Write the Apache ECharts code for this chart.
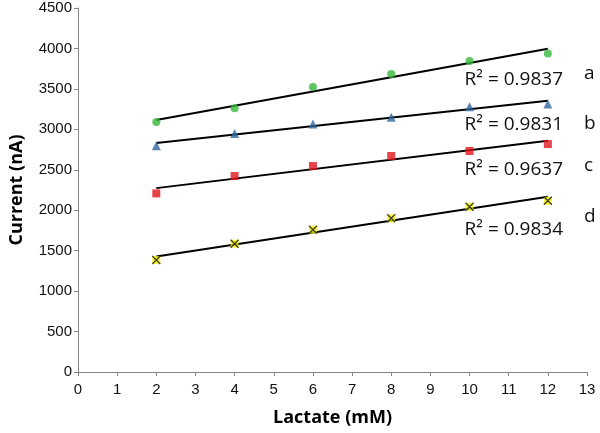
<!DOCTYPE html>
<html>
<head>
<meta charset="utf-8">
<script src="https://cdn.jsdelivr.net/npm/echarts@6/dist/echarts.min.js"></script>
<style>
html,body{margin:0;padding:0;background:#fff;}
#chart{width:600px;height:433px;}
</style>
</head>
<body>
<div id="chart"></div>
<script>
// Data
const lactate = [2, 4, 6, 8, 10, 12];
const curveA = [3090, 3260, 3523, 3683, 3844, 3939];
const curveB = [2797, 2950, 3065, 3148, 3280, 3313];
const curveC = [2208, 2423, 2546, 2670, 2732, 2818];
const curveD = [1384, 1586, 1759, 1900, 2043, 2117];
const r2Labels = ['R² = 0.9837', 'R² = 0.9831', 'R² = 0.9637', 'R² = 0.9834'];
const curveNames = ['a', 'b', 'c', 'd'];
const yTicks = [0, 500, 1000, 1500, 2000, 2500, 3000, 3500, 4000, 4500];
const xTicks = [0, 1, 2, 3, 4, 5, 6, 7, 8, 9, 10, 11, 12, 13];

function pairs(ys) { return lactate.map((x, i) => [x, ys[i]]); }
function fit(ys) {
  const n = lactate.length;
  const mx = lactate.reduce((s, v) => s + v, 0) / n;
  const my = ys.reduce((s, v) => s + v, 0) / n;
  let sxy = 0, sxx = 0;
  for (let i = 0; i < n; i++) { sxy += (lactate[i] - mx) * (ys[i] - my); sxx += (lactate[i] - mx) ** 2; }
  const k = sxy / sxx, b = my - k * mx;
  const x0 = lactate[0], x1 = lactate[n - 1];
  return [[x0, k * x0 + b], [x1, k * x1 + b]];
}
function trend(ys) {
  return { type: 'line', data: fit(ys), symbol: 'none', silent: true, z: 1,
    lineStyle: { color: '#000', width: 2 } };
}

const chart = echarts.init(document.getElementById('chart'), null, { renderer: 'canvas' });
const labelFont = "'Open Sans', sans-serif";
const tickFont = "'Liberation Sans', Arial, sans-serif";
const xSym = 'path://M0,0L10,10M10,0L0,10';

const option = {
  animation: false,
  backgroundColor: '#fff',
  grid: { left: 71, right: 13, top: 8, bottom: 61, containLabel: false },
  xAxis: {
    type: 'value', min: xTicks[0], max: xTicks[xTicks.length - 1], interval: 1,
    name: 'Lactate (mM)', nameLocation: 'middle', nameGap: 37,
    nameTextStyle: { fontFamily: labelFont, fontWeight: 'bold', fontSize: 18, color: '#000' },
    axisLine: { lineStyle: { color: '#868686', width: 1 } },
    axisTick: { show: true, inside: false, length: 4, lineStyle: { color: '#868686' } },
    axisLabel: { fontFamily: tickFont, fontSize: 15, color: '#111', margin: 10, formatter: v => String(v) },
    splitLine: { show: false }
  },
  yAxis: {
    type: 'value', min: yTicks[0], max: yTicks[yTicks.length - 1], interval: 500,
    name: 'Current (nA)', nameLocation: 'middle', nameGap: 52,
    nameTextStyle: { fontFamily: labelFont, fontWeight: 'bold', fontSize: 18, color: '#000' },
    axisLine: { show: true, lineStyle: { color: '#868686', width: 1 } },
    axisTick: { show: true, inside: false, length: 4, lineStyle: { color: '#868686' } },
    axisLabel: { fontFamily: tickFont, fontSize: 15, color: '#111', margin: 6, formatter: v => String(v) },
    splitLine: { show: false }
  },
  series: [
    trend(curveA), trend(curveB), trend(curveC), trend(curveD),
    { type: 'scatter', data: pairs(curveA), symbol: 'circle', symbolSize: 8, z: 3,
      itemStyle: { color: '#37B93A' } },
    { type: 'scatter', data: pairs(curveB), symbol: 'triangle', symbolSize: 9, z: 3,
      itemStyle: { color: '#2F67A0' } },
    { type: 'scatter', data: pairs(curveC), symbol: 'rect', symbolSize: 8, z: 3,
      itemStyle: { color: '#E0141E' } },
    { type: 'scatter', data: pairs(curveD), symbol: 'rect', symbolSize: 8, z: 3,
      itemStyle: { color: '#F4F20E' } },
    { type: 'scatter', data: pairs(curveD), symbol: xSym, symbolSize: 8, z: 4,
      itemStyle: { color: 'none', borderColor: '#111', borderWidth: 1.3 } }
  ]
};
chart.setOption(option);

const r2Y = [83, 128, 173, 233];
const nameY = [77, 127, 169, 220];
const g = [];
r2Labels.forEach((t, i) => {
  g.push({ type: 'text', right: 600 - 563, top: r2Y[i] - 13,
    style: { text: t, fontFamily: labelFont, fontSize: 19, fill: '#111' } });
  g.push({ type: 'text', left: 584, top: nameY[i] - 13,
    style: { text: curveNames[i], fontFamily: labelFont, fontSize: 19, fill: '#111' } });
});
chart.setOption({ graphic: g });
</script>
</body>
</html>
